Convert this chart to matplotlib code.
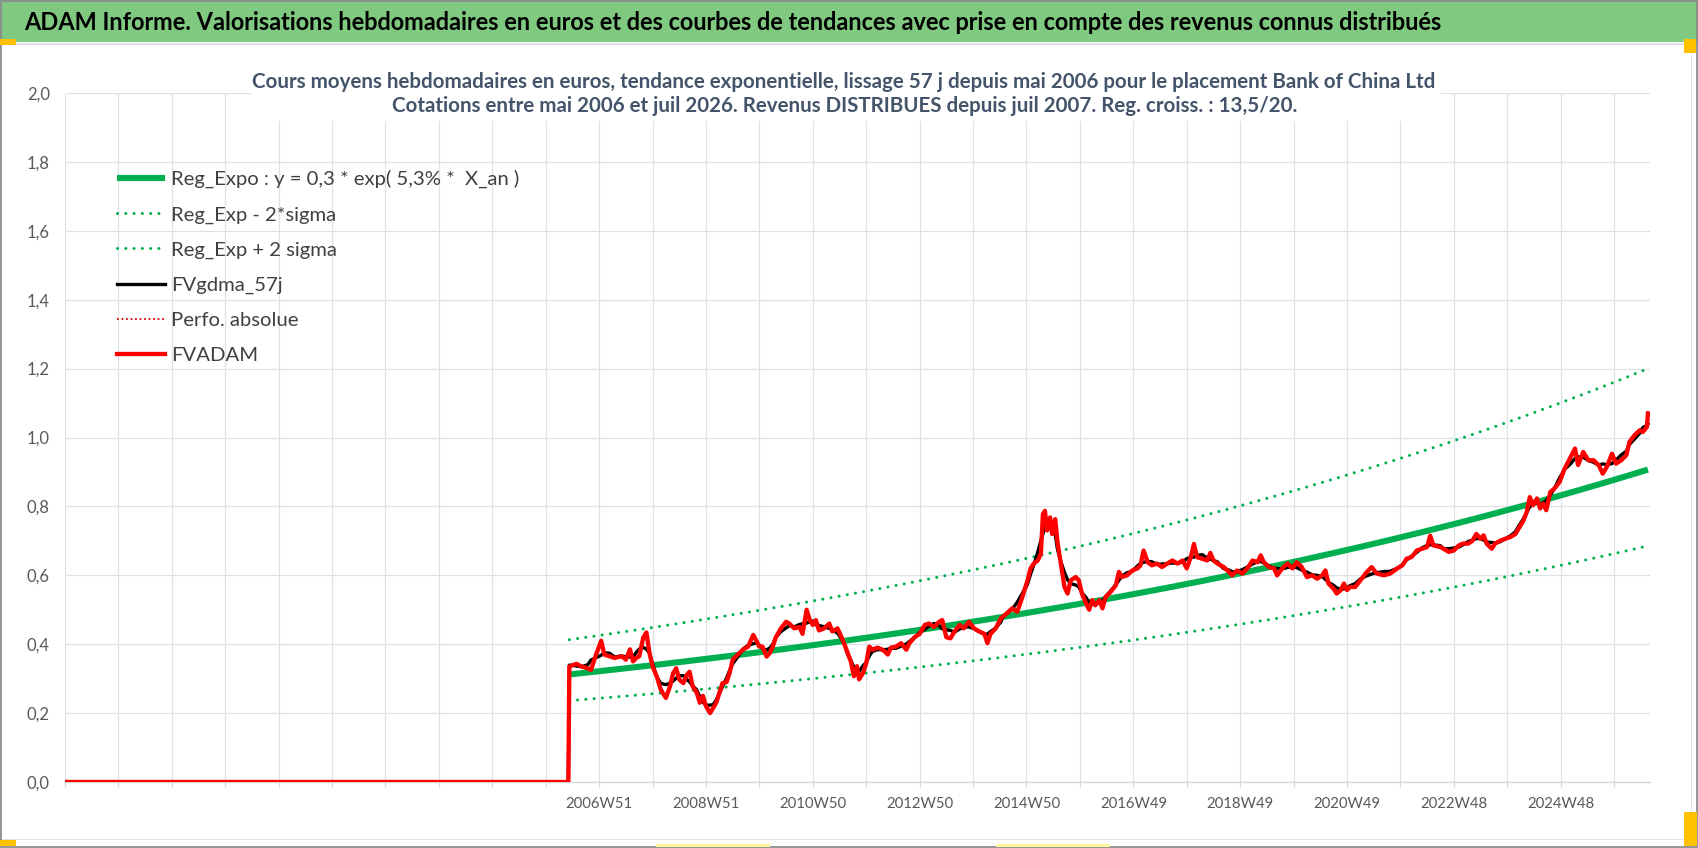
import numpy as np
import pandas as pd
import matplotlib
matplotlib.use('Agg')
import matplotlib.pyplot as plt
from matplotlib.patches import Rectangle

plt.rcParams['font.family'] = ['Lato', 'DejaVu Sans']

# --- data (x = week index from the left edge of the axis) ---
banner_title = ("ADAM Informe. Valorisations hebdomadaires en euros et des courbes de tendances "
                "avec prise en compte des revenus connus distribués")
subtitle_1 = ("Cours moyens hebdomadaires en euros, tendance exponentielle, lissage 57 j depuis "
              "mai 2006 pour le placement Bank of China Ltd")
subtitle_2 = "Cotations entre mai 2006 et juil 2026. Revenus DISTRIBUES depuis juil 2007. Reg. croiss. : 13,5/20."

series_names = ["Reg_Expo : y = 0,3 * exp( 5,3% *  X_an )", "Reg_Exp - 2*sigma", "Reg_Exp + 2 sigma",
                "FVgdma_57j", "Perfo. absolue", "FVADAM"]

week_labels = ['2006W51', '2008W51', '2010W50', '2012W50', '2014W50',
               '2016W49', '2018W49', '2020W49', '2022W48', '2024W48']
first_label_week = 520
label_step = 104
grid_step = 52
n_weeks = 1543

fvadam_week = [0, 490, 491, 495, 498, 503, 509, 512, 517, 522, 525, 530, 535, 542, 546, 550, 553, 556, 559,
               563, 566, 569, 572, 576, 580, 585, 589, 592, 595, 598, 602, 605, 608, 611, 615, 618, 621, 624,
               628, 631, 634, 637, 640, 644, 647, 650, 655, 660, 665, 670, 673, 676, 679, 683, 686, 689, 692,
               697, 702, 705, 710, 715, 718, 722, 725, 728, 731, 734, 739, 744, 747, 752, 756, 759, 762, 765,
               768, 771, 773, 777, 780, 783, 786, 791, 796, 801, 804, 809, 814, 819, 822, 827, 832, 837, 841,
               846, 851, 854, 858, 862, 866, 871, 875, 880, 885, 890, 895, 898, 901, 906, 911, 913, 917, 922,
               927, 932, 937, 940, 943, 947, 950, 952, 954, 956, 959, 961, 964, 966, 969, 973, 976, 979, 984,
               987, 990, 994, 997, 1000, 1003, 1007, 1010, 1013, 1018, 1023, 1026, 1029, 1034, 1039, 1044,
               1047, 1050, 1054, 1058, 1063, 1068, 1073, 1078, 1083, 1088, 1092, 1096, 1099, 1102, 1107,
               1112, 1115, 1118, 1122, 1125, 1128, 1133, 1136, 1141, 1146, 1151, 1156, 1161, 1164, 1167,
               1172, 1177, 1180, 1185, 1190, 1195, 1199, 1204, 1209, 1214, 1219, 1224, 1227, 1230, 1235,
               1238, 1242, 1245, 1248, 1251, 1256, 1261, 1266, 1272, 1277, 1284, 1290, 1297, 1302, 1306,
               1311, 1316, 1321, 1326, 1329, 1332, 1339, 1342, 1347, 1352, 1357, 1361, 1366, 1370, 1374,
               1378, 1381, 1384, 1389, 1392, 1397, 1402, 1407, 1412, 1415, 1420, 1423, 1426, 1429, 1433,
               1436, 1439, 1442, 1446, 1450, 1455, 1460, 1465, 1470, 1473, 1478, 1483, 1488, 1493, 1497,
               1501, 1506, 1510, 1515, 1520, 1523, 1528, 1533, 1536, 1540, 1541]
fvadam_value = [0, 0, 0.335, 0.34, 0.343, 0.335, 0.33, 0.325, 0.37, 0.41, 0.37, 0.365, 0.36, 0.365, 0.355,
                0.385, 0.35, 0.36, 0.365, 0.42, 0.434, 0.374, 0.335, 0.307, 0.268, 0.244, 0.278, 0.316, 0.33,
                0.297, 0.287, 0.31, 0.32, 0.278, 0.259, 0.23, 0.25, 0.22, 0.2, 0.215, 0.23, 0.259, 0.287,
                0.29, 0.316, 0.355, 0.37, 0.384, 0.393, 0.427, 0.41, 0.393, 0.393, 0.364, 0.374, 0.393, 0.42,
                0.446, 0.465, 0.46, 0.446, 0.45, 0.43, 0.5, 0.47, 0.456, 0.47, 0.44, 0.446, 0.46, 0.437,
                0.446, 0.42, 0.398, 0.374, 0.35, 0.307, 0.336, 0.298, 0.317, 0.345, 0.393, 0.384, 0.39,
                0.384, 0.37, 0.39, 0.393, 0.403, 0.384, 0.403, 0.42, 0.43, 0.456, 0.46, 0.45, 0.465, 0.47,
                0.42, 0.417, 0.437, 0.456, 0.446, 0.465, 0.446, 0.437, 0.43, 0.403, 0.43, 0.446, 0.475,
                0.48, 0.49, 0.504, 0.494, 0.537, 0.585, 0.62, 0.634, 0.643, 0.662, 0.778, 0.787, 0.73,
                0.768, 0.72, 0.763, 0.70, 0.643, 0.566, 0.547, 0.585, 0.595, 0.585, 0.547, 0.518, 0.5,
                0.528, 0.513, 0.528, 0.504, 0.537, 0.552, 0.571, 0.61, 0.595, 0.60, 0.614, 0.62, 0.629,
                0.672, 0.638, 0.629, 0.634, 0.624, 0.634, 0.643, 0.634, 0.643, 0.62, 0.653, 0.691, 0.653,
                0.648, 0.643, 0.665, 0.643, 0.634, 0.629, 0.624, 0.61, 0.6, 0.614, 0.605, 0.62, 0.643,
                0.638, 0.658, 0.638, 0.624, 0.62, 0.6, 0.62, 0.634, 0.62, 0.638, 0.624, 0.595, 0.6, 0.59,
                0.6, 0.614, 0.576, 0.561, 0.547, 0.557, 0.576, 0.557, 0.566, 0.566, 0.585, 0.605, 0.624,
                0.605, 0.6, 0.605, 0.62, 0.629, 0.648, 0.653, 0.672, 0.677, 0.682, 0.715, 0.687, 0.682,
                0.677, 0.668, 0.672, 0.687, 0.692, 0.692, 0.70, 0.72, 0.706, 0.716, 0.692, 0.677, 0.692,
                0.70, 0.706, 0.711, 0.72, 0.735, 0.76, 0.784, 0.827, 0.803, 0.823, 0.794, 0.808, 0.789,
                0.842, 0.852, 0.871, 0.91, 0.939, 0.968, 0.92, 0.958, 0.934, 0.934, 0.92, 0.895, 0.915,
                0.953, 0.924, 0.934, 0.949, 0.987, 1.007, 1.021, 1.016, 1.031, 1.07]

# exponential trend as given in the legend, X_an in years since the first quote
first_quote_week = 491
reg_a = 0.3
reg_rate = 0.053
reg_t0 = 0.75
two_sigma = 0.28

# --- derived series ---
trend_week = np.arange(first_quote_week, fvadam_week[-1] + 1)
x_an = reg_t0 + (trend_week - first_quote_week) / 52.18
reg = reg_a * np.exp(reg_rate * x_an)
reg_low = reg * np.exp(-two_sigma)
reg_high = reg * np.exp(two_sigma)

q = fvadam_week.index(first_quote_week)
smooth = pd.Series(fvadam_value[q:]).rolling(5, center=True, min_periods=1).mean()
fvgdma = list(fvadam_value[:q]) + list(smooth)

# --- figure, sized in pixels ---
W, H = 1698, 848
fig = plt.figure(figsize=(W / 100, H / 100), dpi=100)
renderer = fig.canvas.get_renderer()


def fx(x):
    return x / W


def fy(y):
    return 1 - y / H


def text_box(text, size, **kw):
    t = fig.text(0, 0, text, fontsize=size, **kw)
    bb = t.get_window_extent(renderer=renderer)
    t.remove()
    return bb


def fit_size(text, width_px, **kw):
    size = 12.0
    for _ in range(3):
        size *= width_px / text_box(text, size, **kw).width
    return size


# green banner with the main title
fig.patches.append(Rectangle((0, fy(42)), 1, 42 / H, transform=fig.transFigure,
                             facecolor='#80C980', edgecolor='none', zorder=0))
fig.patches.append(Rectangle((0, fy(45)), 1, 1.5 / H, transform=fig.transFigure,
                             facecolor='#E3E3E3', edgecolor='none', zorder=0))
fig.text(fx(24), fy(22), banner_title, fontsize=fit_size(banner_title, 1417, fontweight='bold'),
         fontweight='bold', color='black', ha='left', va='center')

ax = fig.add_axes([fx(65), fy(782), (1650 - 65) / W, (782 - 93) / H])

green = '#00B050'
ax.plot(trend_week, reg, color=green, lw=4.4, solid_capstyle='butt', label=series_names[0], zorder=3)
ax.plot(trend_week, reg_low, color=green, lw=2.2, linestyle=(0, (0.01, 2.7)),
        dash_capstyle='round', label=series_names[1], zorder=3)
ax.plot(trend_week, reg_high, color=green, lw=2.2, linestyle=(0, (0.01, 2.7)),
        dash_capstyle='round', label=series_names[2], zorder=3)
ax.plot(fvadam_week, fvgdma, color='black', lw=2.4, label=series_names[3], zorder=4)
ax.plot(fvadam_week, fvadam_value, color='#E00000', lw=1.3, linestyle=(0, (1, 1.5)),
        label=series_names[4], zorder=5)
ax.plot(fvadam_week, fvadam_value, color='#FF0000', lw=3.1, solid_joinstyle='round',
        label=series_names[5], zorder=6)

ax.set_xlim(0, n_weeks)
ax.set_ylim(0, 2.0)

yticks = np.arange(0, 2.01, 0.2)
ax.set_yticks(yticks)
ax.set_yticklabels([f"{v:.1f}".replace('.', ',') for v in yticks])

xticks = np.arange(0, n_weeks, grid_step)
xlabels = [''] * len(xticks)
for i, lab in enumerate(week_labels):
    xlabels[(first_label_week + i * label_step) // grid_step] = lab
ax.set_xticks(xticks)
ax.set_xticklabels(xlabels)

grid_col = '#DEE2E7'
ax.grid(True, color=grid_col, lw=0.9)
ax.set_axisbelow(True)
for side in ['left', 'right', 'top']:
    ax.spines[side].set_visible(False)
ax.spines['bottom'].set_color('#D4D8DD')
ax.spines['bottom'].set_linewidth(1.0)

tick_col = '#595959'
xfs = fit_size('2006W51', 67)
yfs = fit_size('0,0', 23)
ax.tick_params(axis='x', length=3.6, width=0.9, color='#D4D8DD', pad=7.5, labelsize=xfs, labelcolor=tick_col)
ax.tick_params(axis='y', length=0, pad=11, labelsize=yfs, labelcolor=tick_col)

# white title box over the plot area, then the two-line chart title
fig.patches.append(Rectangle((fx(252), fy(121)), (1441 - 252) / W, (121 - 62) / H,
                             transform=fig.transFigure, facecolor='white', edgecolor='none', zorder=2))
sub_fs = fit_size(subtitle_1, 1178, fontweight='bold')
fig.text(fx(844), fy(82), subtitle_1, fontsize=sub_fs, fontweight='bold', color='#44546A',
         ha='center', va='center', zorder=3)
fig.text(fx(845), fy(106), subtitle_2, fontsize=sub_fs, fontweight='bold', color='#44546A',
         ha='center', va='center', zorder=3)

# legend, no frame, inside upper left; rows about 36 px apart
leg_fs = fit_size(series_names[0], 348)
fs_px = leg_fs * 100 / 72
row_h = text_box(series_names[0], leg_fs).height
ax.legend(loc='upper left', bbox_to_anchor=(fx(117), fy(179 - row_h / 2)),
          bbox_transform=fig.transFigure, frameon=False, borderpad=0, borderaxespad=0,
          handlelength=48 / fs_px, handletextpad=6 / fs_px,
          labelspacing=(36.2 - row_h) / fs_px, prop={'size': leg_fs}, labelcolor='#404040')

# chart-area frame and selection marks of the original screenshot
fig.patches.append(Rectangle((0, fy(840)), 1, 1.2 / H, transform=fig.transFigure,
                             facecolor='#E3E3E3', edgecolor='none', zorder=1))
fig.patches.append(Rectangle((fx(1691), 0), 1.2 / W, fy(46), transform=fig.transFigure,
                             facecolor='#E3E3E3', edgecolor='none', zorder=1))
fig.patches.append(Rectangle((0.0005, 0.001), 0.999, 0.998, transform=fig.transFigure,
                             facecolor='none', edgecolor='#8C8C8C', lw=1.3, zorder=1))
for x0, y0, x1, y1, c in [(0, 39, 16, 45, '#FFC000'), (0, 840, 16, 846, '#FFC000'),
                          (1684, 39, 1696, 53, '#FFC000'), (1684, 812, 1697, 846, '#FFC000'),
                          (656, 844, 770, 847, '#FFF59D'), (996, 844, 1110, 847, '#FFF59D')]:
    fig.patches.append(Rectangle((fx(x0), fy(y1)), (x1 - x0) / W, (y1 - y0) / H,
                                 transform=fig.transFigure, facecolor=c, edgecolor='none', zorder=1))

fig.savefig('out.png', dpi=100)
